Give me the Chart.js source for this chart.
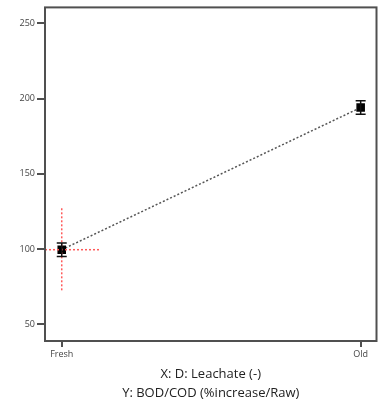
<!DOCTYPE html>
<html>
<head>
<meta charset="utf-8">
<script src="https://cdn.jsdelivr.net/npm/chart.js@4.4.1/dist/chart.umd.min.js"></script>
<style>
  html, body { margin: 0; padding: 0; background: #fff; }
  #wrap { width: 383px; height: 405px; position: relative; }
</style>
</head>
<body>
<div id="wrap"><canvas id="c" width="383" height="405"></canvas></div>
<script>
// Leachate type on the x axis, BOD/COD response on the y axis
const categories = ['Fresh', 'Old'];
const categoryPos = [0, 1];
const bodCod = [99.5, 194];
const bodCodErr = [4.5, 4.5];
const yTicks = [50, 100, 150, 200, 250];
const yRange = [38.8, 260.6];
const xRange = [-0.056, 1.053];
// red guide through the selected level
const guideV = [72.5, 127];
const guideH = [-0.056, 0.13];

const xTitle = 'X: D: Leachate (-)';
const yTitle = 'Y: BOD/COD (%increase/Raw)';

const frameColor = '#505050';

const errorBars = {
  id: 'errorBars',
  afterDatasetsDraw(chart) {
    const { ctx, scales: { x, y } } = chart;
    ctx.save();
    ctx.strokeStyle = '#111';
    ctx.lineWidth = 1.5;
    categoryPos.forEach((p, i) => {
      const px = x.getPixelForValue(p);
      const top = y.getPixelForValue(bodCod[i] + bodCodErr[i]);
      const bot = y.getPixelForValue(bodCod[i] - bodCodErr[i]);
      ctx.beginPath();
      ctx.moveTo(px, top); ctx.lineTo(px, bot);
      ctx.moveTo(px - 5, top); ctx.lineTo(px + 5, top);
      ctx.moveTo(px - 5, bot); ctx.lineTo(px + 5, bot);
      ctx.stroke();
    });
    ctx.restore();
  }
};

const frame = {
  id: 'frame',
  afterDraw(chart) {
    const { ctx, chartArea: a } = chart;
    ctx.save();
    ctx.strokeStyle = frameColor;
    ctx.lineWidth = 2;
    ctx.strokeRect(a.left, a.top, a.right - a.left, a.bottom - a.top);
    ctx.fillStyle = '#222';
    ctx.font = '13px "Open Sans", "Noto Sans", sans-serif';
    ctx.textAlign = 'center';
    ctx.textBaseline = 'middle';
    const cx = (a.left + a.right) / 2;
    ctx.fillText(xTitle, cx, 374);
    ctx.fillText(yTitle, cx, 393);
    ctx.restore();
  }
};

new Chart(document.getElementById('c'), {
  type: 'scatter',
  data: {
    datasets: [
      {
        data: guideV.map(v => ({ x: categoryPos[0], y: v })),
        showLine: true,
        borderColor: '#ff5a5a',
        borderWidth: 1.5,
        borderDash: [2, 2],
        pointRadius: 0
      },
      {
        data: guideH.map(v => ({ x: v, y: bodCod[0] })),
        showLine: true,
        borderColor: '#ff5a5a',
        borderWidth: 1.5,
        borderDash: [2, 2],
        pointRadius: 0
      },
      {
        data: categoryPos.map((p, i) => ({ x: p, y: bodCod[i] })),
        showLine: true,
        borderColor: '#555',
        borderWidth: 1.5,
        borderDash: [2, 2],
        pointStyle: 'rect',
        pointRadius: 5,
        pointBackgroundColor: '#000',
        pointBorderColor: '#000'
      }
    ]
  },
  options: {
    responsive: false,
    animation: false,
    layout: { padding: { top: 5, right: 3, left: 0, bottom: 0 } },
    plugins: { legend: { display: false }, tooltip: { enabled: false } },
    scales: {
      x: {
        type: 'linear',
        min: xRange[0],
        max: xRange[1],
        afterBuildTicks(axis) { axis.ticks = categoryPos.map(v => ({ value: v })); },
        afterFit(axis) { axis.height = 64; },
        ticks: {
          autoSkip: false,
          maxRotation: 0,
          padding: 2,
          color: '#444',
          font: { size: 9, family: '"Open Sans", sans-serif' },
          callback: (v) => categories[categoryPos.indexOf(v)] ?? ''
        },
        grid: { drawOnChartArea: false, drawTicks: true, tickLength: 6, color: frameColor, lineWidth: 2 },
        border: { display: false }
      },
      y: {
        min: yRange[0],
        max: yRange[1],
        afterBuildTicks(axis) { axis.ticks = yTicks.map(v => ({ value: v })); },
        afterFit(axis) { axis.width = 45; },
        ticks: {
          padding: 2,
          color: '#444',
          font: { size: 9, family: '"Open Sans", sans-serif' }
        },
        grid: { drawOnChartArea: false, drawTicks: true, tickLength: 8, color: frameColor, lineWidth: 2 },
        border: { display: false }
      }
    }
  },
  plugins: [errorBars, frame]
});
</script>
</body>
</html>
